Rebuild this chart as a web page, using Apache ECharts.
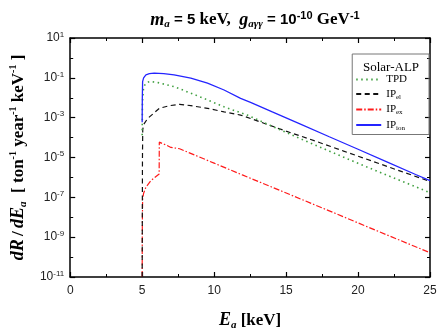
<!DOCTYPE html>
<html>
<head>
<meta charset="utf-8">
<script src="https://cdn.jsdelivr.net/npm/echarts@6/dist/echarts.min.js"></script>
<style>
  html, body { margin: 0; padding: 0; background: #fff; }
  #chart { width: 447px; height: 336px; }
</style>
</head>
<body>
<div id="chart"></div>
<script>
// energies (keV) and rates (ton^-1 year^-1 keV^-1)
const energyTPD = [5.0, 5.02, 5.1, 5.26, 5.5, 6.0, 7.22, 8.38, 9.54, 10.69, 12.3, 14, 16, 18, 20, 22, 24, 25];
const rateTPD = [1.3e-4, 6.3e-3, 3.5e-2, 5.4e-2, 6.5e-2, 6.0e-2, 3.6e-2, 1.7e-2, 7.8e-3, 3.5e-3, 1.35e-3, 3.8e-4, 8.7e-5, 2.1e-5, 5.1e-6, 1.3e-6, 3.4e-7, 1.7e-7];

const energyEl = [5.0, 5.02, 5.04, 5.1, 5.38, 6.2, 6.9, 7.6, 8.38, 9.54, 10.69, 11.84, 13, 15, 17, 19, 21, 23, 25];
const rateEl = [1e-11, 1e-5, 2.5e-4, 4.5e-4, 9.1e-4, 2.95e-3, 4.0e-3, 4.7e-3, 4.0e-3, 2.95e-3, 1.95e-3, 1.35e-3, 6.9e-4, 2.1e-4, 6.8e-5, 2.1e-5, 6.5e-6, 2.0e-6, 6.3e-7];

const energyEx = [5.0, 5.01, 5.03, 5.1, 5.26, 5.6, 6.18, 6.19, 6.7, 7.0, 7.6, 10, 12, 14, 16, 18, 20, 22, 24, 25];
const rateEx = [1e-11, 3.2e-9, 7.9e-8, 1.6e-7, 3.2e-7, 6.9e-7, 1.48e-6, 5.9e-5, 4.1e-5, 3.2e-5, 2.75e-5, 5.2e-6, 1.3e-6, 3.3e-7, 8.3e-8, 2.1e-8, 5.2e-9, 1.3e-9, 3.3e-10, 1.66e-10];

const energyIon = [5.0, 5.01, 5.03, 5.1, 5.26, 5.5, 5.84, 6.5, 7.22, 8.38, 9.54, 10.69, 11.84, 12.53, 14, 16, 18, 20, 22, 24, 25];
const rateIon = [5.9e-4, 1.0e-2, 6.5e-2, 0.10, 0.141, 0.162, 0.174, 0.162, 0.141, 0.0955, 0.0537, 0.0245, 9.3e-3, 5.9e-3, 2.0e-3, 4.7e-4, 1.1e-4, 2.6e-5, 6.0e-6, 1.4e-6, 6.9e-7];

// y axis: decades, labelled every second one
const yExponents = [-11, -9, -7, -5, -3, -1, 1];
const xTicks = [0, 5, 10, 15, 20, 25];

const legendNames = {
  'TPD': '{n|TPD}',
  'IP_el': '{n|IP}{s|el}',
  'IP_ex': '{n|IP}{s|ex}',
  'IP_ion': '{n|IP}{s|ion}'
};

function toLog(xs, ys) {
  return xs.map((x, i) => [x, Math.log10(ys[i])]);
}

const serif = '"Liberation Serif", "DejaVu Serif", serif';
const sans = '"Liberation Sans", Arial, sans-serif';

const chart = echarts.init(document.getElementById('chart'));

// same tick look on all four sides of the frame
function frame(extra) {
  return Object.assign({
    axisLine: { show: true, onZero: false, lineStyle: { color: '#000', width: 1.5 } },
    axisTick: { show: true, inside: true, length: 5, lineStyle: { color: '#000', width: 1.2 } },
    minorTick: { show: true, splitNumber: 2, length: 3, lineStyle: { color: '#000', width: 1 } },
    splitLine: { show: false },
    minorSplitLine: { show: false }
  }, extra);
}

const option = {
  animation: false,
  backgroundColor: '#fff',
  title: [{
    text: '{mi|m}{sub|a}{b| = 5 }{kb|keV,  }{mi|g}{sub|aγγ}{b| = 10}{sup|-10}{kb| GeV}{sup|-1}',
    left: 250,
    textAlign: 'center',
    top: 5,
    textStyle: {
      rich: {
        mi: { fontFamily: serif, fontStyle: 'italic', fontWeight: 'bold', fontSize: 18, color: '#000' },
        sub: { fontFamily: serif, fontStyle: 'italic', fontWeight: 'bold', fontSize: 11, color: '#000', verticalAlign: 'bottom', padding: [9, 0, 0, 0] },
        b: { fontFamily: sans, fontWeight: 'bold', fontSize: 15, color: '#000' },
        kb: { fontFamily: serif, fontWeight: 'bold', fontSize: 17, color: '#000' },
        sup: { fontFamily: sans, fontWeight: 'bold', fontSize: 11, color: '#000', verticalAlign: 'top', padding: [0, 0, 9, 0] }
      }
    }
  }, {
    text: 'Solar-ALP',
    left: 358,
    top: 56,
    textStyle: { fontFamily: serif, fontSize: 13, fontWeight: 'normal', color: '#000' }
  }],
  legend: {
    orient: 'vertical',
    right: 18,
    top: 54,
    data: ['TPD', 'IP_el', 'IP_ex', 'IP_ion'],
    formatter: name => legendNames[name],
    itemWidth: 25,
    itemHeight: 10,
    itemGap: 3.5,
    padding: [20, 22, 3, 3],
    borderColor: '#777',
    borderWidth: 1,
    itemStyle: { opacity: 0 },
    textStyle: {
      rich: {
        n: { fontFamily: serif, fontSize: 11, color: '#000' },
        s: { fontFamily: serif, fontSize: 7, color: '#000', verticalAlign: 'bottom', padding: [6, 0, 0, 0] }
      }
    }
  },
  grid: { left: 69, right: 17, top: 38, bottom: 59 },
  xAxis: [frame({
    type: 'value',
    position: 'bottom',
    min: 0, max: 25, interval: 5,
    name: '{i|E}{s|a}{n| [keV]}',
    nameLocation: 'middle',
    nameGap: 33,
    nameTextStyle: {
      rich: {
        i: { fontFamily: serif, fontStyle: 'italic', fontWeight: 'bold', fontSize: 18, color: '#000' },
        s: { fontFamily: serif, fontStyle: 'italic', fontWeight: 'bold', fontSize: 11, color: '#000', verticalAlign: 'bottom', padding: [10, 0, 0, 0] },
        n: { fontFamily: serif, fontWeight: 'bold', fontSize: 17, color: '#000' }
      }
    },
    axisLabel: { show: true, margin: 8, fontFamily: sans, fontSize: 12, color: '#222', customValues: xTicks }
  }), frame({
    type: 'value',
    position: 'top',
    min: 0, max: 25, interval: 5,
    axisLabel: { show: false }
  })],
  yAxis: [frame({
    type: 'value',
    position: 'left',
    min: -11, max: 1, interval: 2,
    name: '{i|dR} {n|/} {i|dE}{s|a}{n|  [ ton}{p|-1}{n| year}{p|-1}{n| keV}{p|-1}{n| ]}',
    nameLocation: 'middle',
    nameRotate: 90,
    nameGap: 31,
    nameTextStyle: {
      rich: {
        i: { fontFamily: serif, fontStyle: 'italic', fontWeight: 'bold', fontSize: 18, color: '#000' },
        s: { fontFamily: serif, fontStyle: 'italic', fontWeight: 'bold', fontSize: 11, color: '#000', verticalAlign: 'bottom', padding: [10, 0, 0, 0] },
        n: { fontFamily: serif, fontWeight: 'bold', fontSize: 17, color: '#000' },
        p: { fontFamily: serif, fontWeight: 'bold', fontSize: 10, color: '#000', verticalAlign: 'top', padding: [0, 0, 9, 0] }
      }
    },
    axisLabel: {
      show: true, margin: 6, customValues: yExponents,
      formatter: v => '{t|10}{p|' + v + '}',
      rich: {
        t: { fontFamily: sans, fontSize: 12, color: '#222' },
        p: { fontFamily: sans, fontSize: 8, color: '#222', verticalAlign: 'top', padding: [0, 0, 7, 0] }
      }
    }
  }), frame({
    type: 'value',
    position: 'right',
    min: -11, max: 1, interval: 2,
    axisLabel: { show: false }
  })],
  series: [{
    name: 'IP_ex',
    type: 'line',
    showSymbol: false, symbol: 'none',
    data: toLog(energyEx, rateEx),
    lineStyle: { color: '#ff1a1a', width: 1.2, type: [6, 2, 1.5, 2] },
    itemStyle: { color: '#ff1a1a' }
  }, {
    name: 'IP_el',
    type: 'line',
    showSymbol: false, symbol: 'none',
    data: toLog(energyEl, rateEl),
    lineStyle: { color: '#111', width: 1.2, type: [5, 3.5] },
    itemStyle: { color: '#111' }
  }, {
    name: 'TPD',
    type: 'line',
    showSymbol: false, symbol: 'none',
    data: toLog(energyTPD, rateTPD),
    lineStyle: { color: '#3f9f3f', width: 1.6, type: [1.5, 3.5] },
    itemStyle: { color: '#3f9f3f' }
  }, {
    name: 'IP_ion',
    type: 'line',
    showSymbol: false, symbol: 'none',
    data: toLog(energyIon, rateIon),
    lineStyle: { color: '#2424ff', width: 1.3 },
    itemStyle: { color: '#2424ff' }
  }]
};

chart.setOption(option);
</script>
</body>
</html>
